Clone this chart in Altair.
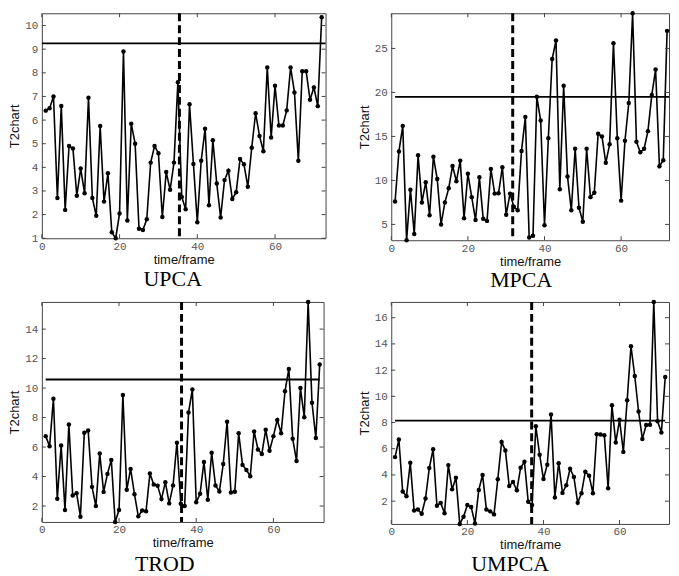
import altair as alt
import numpy as np
import pandas as pd

# ---- data ----
upca = [6.4, 6.5, 7.0, 2.7, 6.6, 2.2, 4.9, 4.8, 2.8, 3.95,
        2.9, 6.95, 2.7, 1.95, 5.75, 2.55, 3.75, 1.25, 1.0, 2.05,
        8.9, 1.75, 5.85, 5.0, 1.4, 1.35, 1.8, 4.2, 4.9, 4.6,
        1.9, 3.8, 3.05, 4.2, 7.6, 2.75, 2.23, 6.67, 4.14, 1.68,
        4.28, 5.63, 2.4, 5.15, 3.32, 1.88, 3.46, 3.86, 2.66, 2.95,
        4.35, 4.13, 3.18, 4.83, 6.29, 5.33, 4.68, 8.23, 5.26, 7.45,
        5.77, 5.77, 6.41, 8.23, 7.17, 4.28, 8.07, 8.07, 6.86, 7.38,
        6.59, 10.35]
mpca = [7.6, 13.3, 16.2, 3.2, 8.95, 3.9, 12.85, 7.5, 9.8, 6.05,
        12.7, 10.15, 5.0, 7.5, 9.1, 11.65, 9.9, 12.25, 5.7, 10.75,
        8.1, 5.5, 10.35, 5.65, 5.4, 11.3, 8.5, 8.55, 11.5, 6.1,
        8.5, 7.0, 6.6, 13.35, 17.2, 3.5, 3.7, 19.5, 16.8, 4.9,
        14.8, 23.8, 25.9, 9.0, 20.75, 10.45, 6.6, 13.6, 6.9, 5.3,
        13.6, 8.1, 8.6, 15.3, 15.0, 12.0, 14.1, 25.6, 14.8, 7.7,
        14.5, 18.8, 29.0, 14.4, 13.2, 13.6, 15.6, 19.7, 22.6, 11.6,
        12.3, 27.0]
trod = [6.74, 6.05, 9.28, 2.49, 6.1, 1.73, 7.53, 2.72, 2.87, 1.28,
        6.97, 7.12, 3.3, 2.0, 5.57, 2.96, 4.18, 5.12, 0.92, 1.73,
        9.53, 3.1, 4.52, 2.8, 1.3, 1.7, 1.65, 4.2, 3.46, 3.37,
        2.47, 3.62, 2.18, 3.4, 6.3, 2.15, 2.0, 8.34, 9.91, 2.25,
        2.83, 4.99, 2.43, 5.62, 3.39, 2.99, 4.85, 7.71, 2.92, 2.97,
        6.94, 4.79, 4.45, 4.02, 7.06, 5.84, 5.53, 7.17, 5.75, 6.74,
        7.84, 6.94, 9.78, 11.3, 6.56, 5.06, 10.0, 8.02, 15.84, 9.01,
        6.61, 11.6]
umpca = [5.36, 6.7, 2.73, 2.38, 4.93, 1.29, 1.37, 1.04, 2.2, 4.53,
         5.96, 1.65, 1.87, 1.07, 4.75, 2.9, 3.79, 0.26, 0.81, 1.7,
         1.55, 0.3, 2.86, 4.0, 1.37, 1.22, 0.99, 3.67, 6.52, 5.86,
         3.16, 3.46, 2.83, 4.55, 5.0, 1.95, 1.7, 7.71, 5.54, 3.69,
         4.78, 8.62, 2.28, 4.9, 2.63, 3.21, 4.47, 3.84, 1.87, 2.61,
         4.25, 3.94, 2.61, 7.1, 7.08, 7.03, 2.98, 9.32, 6.47, 8.21,
         5.76, 9.7, 13.82, 11.55, 8.84, 6.75, 7.81, 7.83, 17.2, 8.09,
         7.23, 11.47]

names = ["UPCA", "MPCA", "TROD", "UMPCA"]
thresholds = [9.25, 19.5, 10.58, 8.15]
threshold_spans = [[0, 73], [1, 72.5], [1, 72], [1, 72]]
change_points = [35.4, 31.7, 36.2, 36.9]
y_domains = [[1, 10.52], [3.2, 29.0], [0.92, 15.84], [0.26, 17.2]]
x_domains = [[0, 73], [0, 72.5], [0, 73], [0, 73]]
y_ticks = [[1, 2, 3, 4, 5, 6, 7, 8, 9, 10],
           [5, 10, 15, 20, 25],
           [2, 4, 6, 8, 10, 12, 14],
           [2, 4, 6, 8, 10, 12, 14, 16]]
x_ticks = [0, 20, 40, 60]
series = [upca, mpca, trod, umpca]

sizes = [(285, 226), (279, 228), (283, 221), (279, 223)]
title_dx = [-11, -9, -18, -20]
title_offset = [3, 2, 4, 2]

LABEL_FONT = "Liberation Mono"
TITLE_FONT = "Liberation Sans"


def panel(i):
    vals = series[i]
    W, H = sizes[i]
    df = pd.DataFrame({"t": np.arange(1, len(vals) + 1), "v": vals})
    xs = alt.Scale(domain=x_domains[i], nice=False, zero=False)
    ys = alt.Scale(domain=y_domains[i], nice=False, zero=False)
    xax = alt.Axis(values=x_ticks, title="time/frame", grid=False, ticks=False,
                   domain=False, labelFont=LABEL_FONT, labelFontSize=11,
                   labelColor="#555", labelPadding=2, titleFont=TITLE_FONT,
                   titleFontSize=13, titleFontWeight="normal", titleColor="#111",
                   titlePadding=2, labelFlush=False)
    yax = alt.Axis(values=y_ticks[i], title="T2chart", grid=False, ticks=False,
                   domain=False, labelFont=LABEL_FONT, labelFontSize=11,
                   labelColor="#555", labelPadding=4, titleFont=TITLE_FONT,
                   titleFontSize=13, titleFontWeight="normal", titleColor="#111",
                   titlePadding=3, labelFlush=False)

    def X(f):
        return alt.X(f, type="quantitative", scale=xs, axis=xax)

    def Y(f):
        return alt.Y(f, type="quantitative", scale=ys, axis=yax)

    line = alt.Chart(df).mark_line(color="black", strokeWidth=1.6).encode(x=X("t"), y=Y("v"))
    pts = alt.Chart(df).mark_circle(color="black", size=20, opacity=1).encode(x=X("t"), y=Y("v"))
    thr_df = pd.DataFrame({"x": [threshold_spans[i][0]], "x2": [threshold_spans[i][1]],
                           "y": [thresholds[i]]})
    thr = alt.Chart(thr_df).mark_rule(color="black", strokeWidth=1.8).encode(
        x=X("x"), x2="x2:Q", y=Y("y"))
    chg = alt.Chart(pd.DataFrame({"c": [change_points[i]]})).mark_rule(
        color="black", strokeWidth=3, strokeDash=[8, 4]).encode(
        x=X("c"), y=alt.value(0), y2=alt.value(H))
    ytd = pd.DataFrame({"yt": y_ticks[i]})
    ytl = alt.Chart(ytd).mark_rule(color="#444").encode(y=Y("yt"), x=alt.value(0), x2=alt.value(4))
    ytr = alt.Chart(ytd).mark_rule(color="#444").encode(y=Y("yt"), x=alt.value(W - 4), x2=alt.value(W))
    xtd = pd.DataFrame({"xt": x_ticks})
    xtb = alt.Chart(xtd).mark_rule(color="#444").encode(x=X("xt"), y=alt.value(H - 4), y2=alt.value(H))
    xtt = alt.Chart(xtd).mark_rule(color="#444").encode(x=X("xt"), y=alt.value(0), y2=alt.value(4))

    return alt.layer(line, pts, thr, chg, ytl, ytr, xtb, xtt).properties(
        width=W, height=H,
        title=alt.TitleParams(names[i], orient="bottom", font="Liberation Serif",
                              fontSize=22, fontWeight="normal", color="black",
                              offset=title_offset[i], dx=title_dx[i]))


chart = alt.concat(panel(0), panel(1), panel(2), panel(3), columns=2,
                   bounds="flush", spacing={"row": 62, "column": 66}).properties(
    padding={"left": 0, "top": 0, "right": 0, "bottom": 0}
).configure_view(stroke="#444", strokeWidth=1)

chart.save("out.html", embed_options={"renderer": "svg", "actions": False})
